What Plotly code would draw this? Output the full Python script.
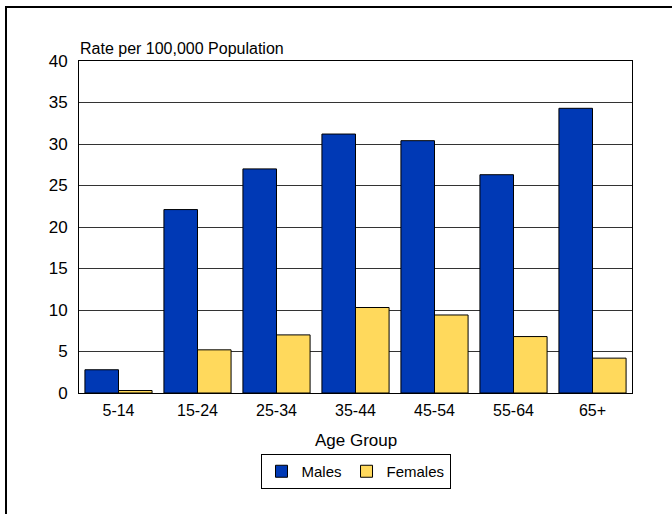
import plotly.graph_objects as go

age_groups = ["5-14", "15-24", "25-34", "35-44", "45-54", "55-64", "65+"]
males = [2.8, 22.1, 27.0, 31.2, 30.4, 26.3, 34.3]
females = [0.3, 5.2, 7.0, 10.3, 9.4, 6.8, 4.2]
y_ticks = [0, 5, 10, 15, 20, 25, 30, 35, 40]

FONT = "Liberation Sans, Arial, sans-serif"

fig = go.Figure()
fig.add_trace(go.Bar(x=age_groups, y=males, name="Males",
                     marker=dict(color="#0039B5", line=dict(color="black", width=1))))
fig.add_trace(go.Bar(x=age_groups, y=females, name="Females",
                     marker=dict(color="#FFD95C", line=dict(color="black", width=1))))

L, R, T, B = 79, 40, 61, 121
W, H = 672, 514
pw, ph = W - L - R, H - T - B

def px_x(p):
    return (p - L) / pw

def px_y(p):
    return (H - B - p) / ph

fig.update_layout(
    width=W, height=H,
    margin=dict(l=L, r=R, t=T, b=B, pad=0),
    paper_bgcolor="white", plot_bgcolor="white",
    barmode="group", bargap=0.15, bargroupgap=0,
    font=dict(family=FONT, size=16, color="black"),
    showlegend=True,
    legend=dict(orientation="h", x=0.5, xanchor="center", y=px_y(454), yanchor="top",
                bordercolor="black", borderwidth=1, bgcolor="white",
                font=dict(size=15), itemwidth=30, tracegroupgap=0),
    xaxis=dict(showgrid=False, showline=True, linecolor="black", linewidth=1, mirror=True,
               ticks="", tickfont=dict(size=16), ticklabelstandoff=3),
    yaxis=dict(range=[0, 40], tickvals=y_ticks, showgrid=True, gridcolor="#333333", gridwidth=1,
               showline=True, linecolor="black", linewidth=1, mirror=True,
               ticks="", tickfont=dict(size=17), zeroline=False, ticklabelstandoff=7),
    annotations=[
        dict(text="Rate per 100,000 Population", xref="paper", yref="paper",
             x=px_x(78), y=px_y(59), xanchor="left", yanchor="bottom", showarrow=False,
             font=dict(size=16)),
        dict(text="Age Group", xref="paper", yref="paper",
             x=0.5, y=px_y(440), xanchor="center", yanchor="middle", showarrow=False,
             font=dict(size=17)),
    ],
    shapes=[
        dict(type="rect", xref="paper", yref="paper",
             x0=px_x(6), x1=px_x(690), y0=px_y(530), y1=px_y(7),
             line=dict(color="black", width=2), fillcolor="rgba(0,0,0,0)", layer="above"),
    ],
)

fig.write_html("out.html", config={"displayModeBar": False},
               post_script="document.body.style.margin='0';")
